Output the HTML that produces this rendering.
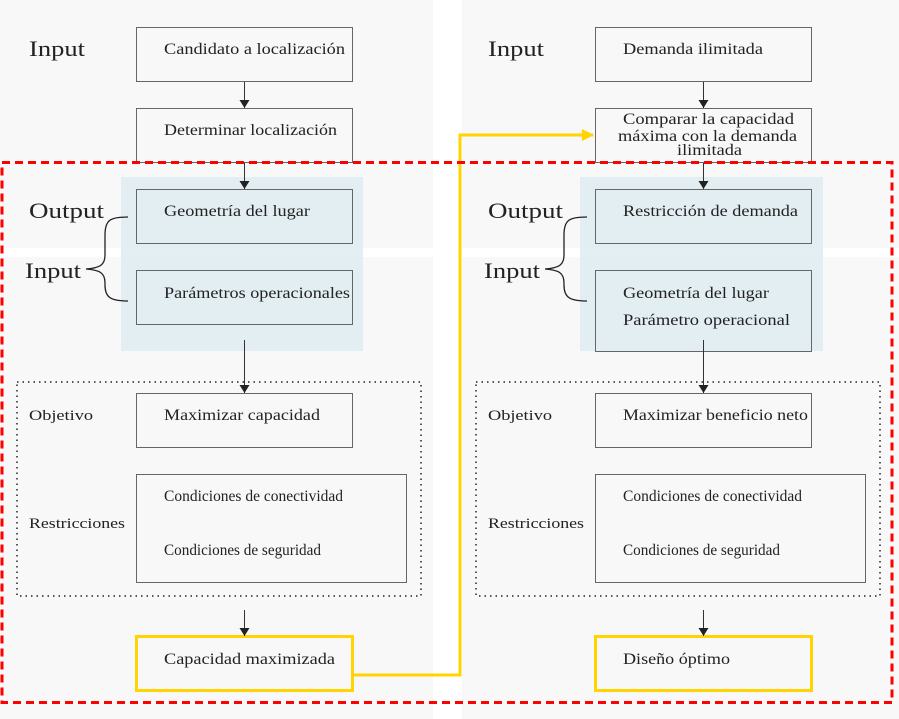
<!DOCTYPE html>
<html><head><meta charset="utf-8"><style>
html,body{margin:0;padding:0;background:#fff}
svg{display:block}
text{font-family:"Liberation Serif",serif;fill:#222}
.b{font-size:15.5px}
.L{font-size:22px}
.s{font-size:15px}
</style></head><body>
<svg width="899" height="719" viewBox="0 0 899 719">
<defs>
<marker id="a" markerWidth="8" markerHeight="10" refX="8" refY="5" orient="auto" markerUnits="userSpaceOnUse"><path d="M0,0 L8,5 L0,10 z" fill="#222"/></marker>
<marker id="ay" markerWidth="12" markerHeight="12" refX="11" refY="6" orient="auto" markerUnits="userSpaceOnUse"><path d="M0,0 L12,6 L0,12 z" fill="#ffd400"/></marker>
</defs>
<rect x="0" y="0" width="433" height="248" fill="#f8f8f8"/>
<rect x="0" y="257" width="433" height="462" fill="#f8f8f8"/>
<rect x="462" y="0" width="437" height="248" fill="#f8f8f8"/>
<rect x="462" y="257" width="437" height="462" fill="#f8f8f8"/>
<rect x="121" y="177" width="242" height="174" fill="#dfecf2" opacity="0.85"/>
<rect x="580" y="177" width="243" height="174" fill="#dfecf2" opacity="0.85"/>
<g fill="none" stroke="#666" stroke-width="1">
<rect x="136.5" y="27.5" width="216" height="54"/>
<rect x="136.5" y="108.5" width="216" height="54"/>
<rect x="136.5" y="189.5" width="216" height="54"/>
<rect x="136.5" y="270.5" width="216" height="54"/>
<rect x="136.5" y="393.5" width="216" height="54"/>
<rect x="136.5" y="474.5" width="270" height="108"/>
<rect x="595.5" y="27.5" width="216" height="54"/>
<rect x="595.5" y="108.5" width="216" height="54"/>
<rect x="595.5" y="189.5" width="216" height="54"/>
<rect x="595.5" y="270.5" width="216" height="81"/>
<rect x="595.5" y="393.5" width="216" height="54"/>
<rect x="595.5" y="474.5" width="270" height="108"/>
</g>
<g fill="none" stroke="#ffd400" stroke-width="3">
<rect x="136.5" y="636.5" width="216" height="54"/>
<rect x="595.5" y="636.5" width="216" height="54"/>
<path d="M352,675 H460 V135 H593" marker-end="url(#ay)"/>
</g>
<g fill="none" stroke="#222" stroke-width="1.5" stroke-dasharray="1.5,4">
<rect x="17" y="382" width="404" height="214"/>
<rect x="476" y="382" width="404" height="214"/>
</g>
<g stroke="#333" stroke-width="1" marker-end="url(#a)">
<line x1="244.5" y1="82" x2="244.5" y2="108"/>
<line x1="244.5" y1="163" x2="244.5" y2="189"/>
<line x1="244.5" y1="340" x2="244.5" y2="393"/>
<line x1="244.5" y1="610" x2="244.5" y2="636"/>
<line x1="703.5" y1="82" x2="703.5" y2="108"/>
<line x1="703.5" y1="163" x2="703.5" y2="189"/>
<line x1="703.5" y1="340" x2="703.5" y2="393"/>
<line x1="703.5" y1="610" x2="703.5" y2="636"/>
</g>
<g fill="none" stroke="#222" stroke-width="1.3">
<path d="M128,217 C110,217 105,220 105,235 V255 C105,265 100,268 86,269 C100,270 105,273 105,283 V285 C105,297 110,301 128,301"/>
<path d="M587,217 C569,217 564,220 564,235 V255 C564,265 559,268 545,269 C559,270 564,273 564,283 V285 C564,297 569,301 587,301"/>
</g>
<rect x="2" y="162.5" width="890" height="540" fill="none" stroke="#f00" stroke-width="3" stroke-dasharray="8,5"/>
<g lengthAdjust="spacingAndGlyphs">
<text class="L" x="29" y="56" textLength="56" lengthAdjust="spacingAndGlyphs">Input</text>
<text class="L" x="29" y="218" textLength="75" lengthAdjust="spacingAndGlyphs">Output</text>
<text class="L" x="25" y="278" textLength="56" lengthAdjust="spacingAndGlyphs">Input</text>
<text class="L" x="488" y="56" textLength="56" lengthAdjust="spacingAndGlyphs">Input</text>
<text class="L" x="488" y="218" textLength="75" lengthAdjust="spacingAndGlyphs">Output</text>
<text class="L" x="484" y="278" textLength="56" lengthAdjust="spacingAndGlyphs">Input</text>
<text class="s" x="29" y="420" textLength="64" lengthAdjust="spacingAndGlyphs">Objetivo</text>
<text class="s" x="29" y="528" textLength="96" lengthAdjust="spacingAndGlyphs">Restricciones</text>
<text class="s" x="488" y="420" textLength="64" lengthAdjust="spacingAndGlyphs">Objetivo</text>
<text class="s" x="488" y="528" textLength="96" lengthAdjust="spacingAndGlyphs">Restricciones</text>
<text class="b" x="164" y="54" textLength="181" lengthAdjust="spacingAndGlyphs">Candidato a localización</text>
<text class="b" x="164" y="135" textLength="173" lengthAdjust="spacingAndGlyphs">Determinar localización</text>
<text class="b" x="164" y="216" textLength="146" lengthAdjust="spacingAndGlyphs">Geometría del lugar</text>
<text class="b" x="164" y="298" textLength="186" lengthAdjust="spacingAndGlyphs">Parámetros operacionales</text>
<text class="b" x="164" y="420" textLength="156" lengthAdjust="spacingAndGlyphs">Maximizar capacidad</text>
<text class="b" x="164" y="501" textLength="179" lengthAdjust="spacingAndGlyphs">Condiciones de conectividad</text>
<text class="b" x="164" y="555" textLength="157" lengthAdjust="spacingAndGlyphs">Condiciones de seguridad</text>
<text class="b" x="164" y="664" textLength="171" lengthAdjust="spacingAndGlyphs">Capacidad maximizada</text>
<text class="b" x="623" y="54" textLength="140" lengthAdjust="spacingAndGlyphs">Demanda ilimitada</text>
<text class="b" x="623" y="124" textLength="171" lengthAdjust="spacingAndGlyphs">Comparar la capacidad</text>
<text class="b" x="618" y="141" textLength="179" lengthAdjust="spacingAndGlyphs">máxima con la demanda</text>
<text class="b" x="677" y="155" textLength="65" lengthAdjust="spacingAndGlyphs">ilimitada</text>
<text class="b" x="623" y="216" textLength="175" lengthAdjust="spacingAndGlyphs">Restricción de demanda</text>
<text class="b" x="623" y="298" textLength="146" lengthAdjust="spacingAndGlyphs">Geometría del lugar</text>
<text class="b" x="623" y="325" textLength="167" lengthAdjust="spacingAndGlyphs">Parámetro operacional</text>
<text class="b" x="623" y="420" textLength="185" lengthAdjust="spacingAndGlyphs">Maximizar beneficio neto</text>
<text class="b" x="623" y="501" textLength="179" lengthAdjust="spacingAndGlyphs">Condiciones de conectividad</text>
<text class="b" x="623" y="555" textLength="157" lengthAdjust="spacingAndGlyphs">Condiciones de seguridad</text>
<text class="b" x="623" y="664" textLength="107" lengthAdjust="spacingAndGlyphs">Diseño óptimo</text>
</g>
</svg>
</body></html>
